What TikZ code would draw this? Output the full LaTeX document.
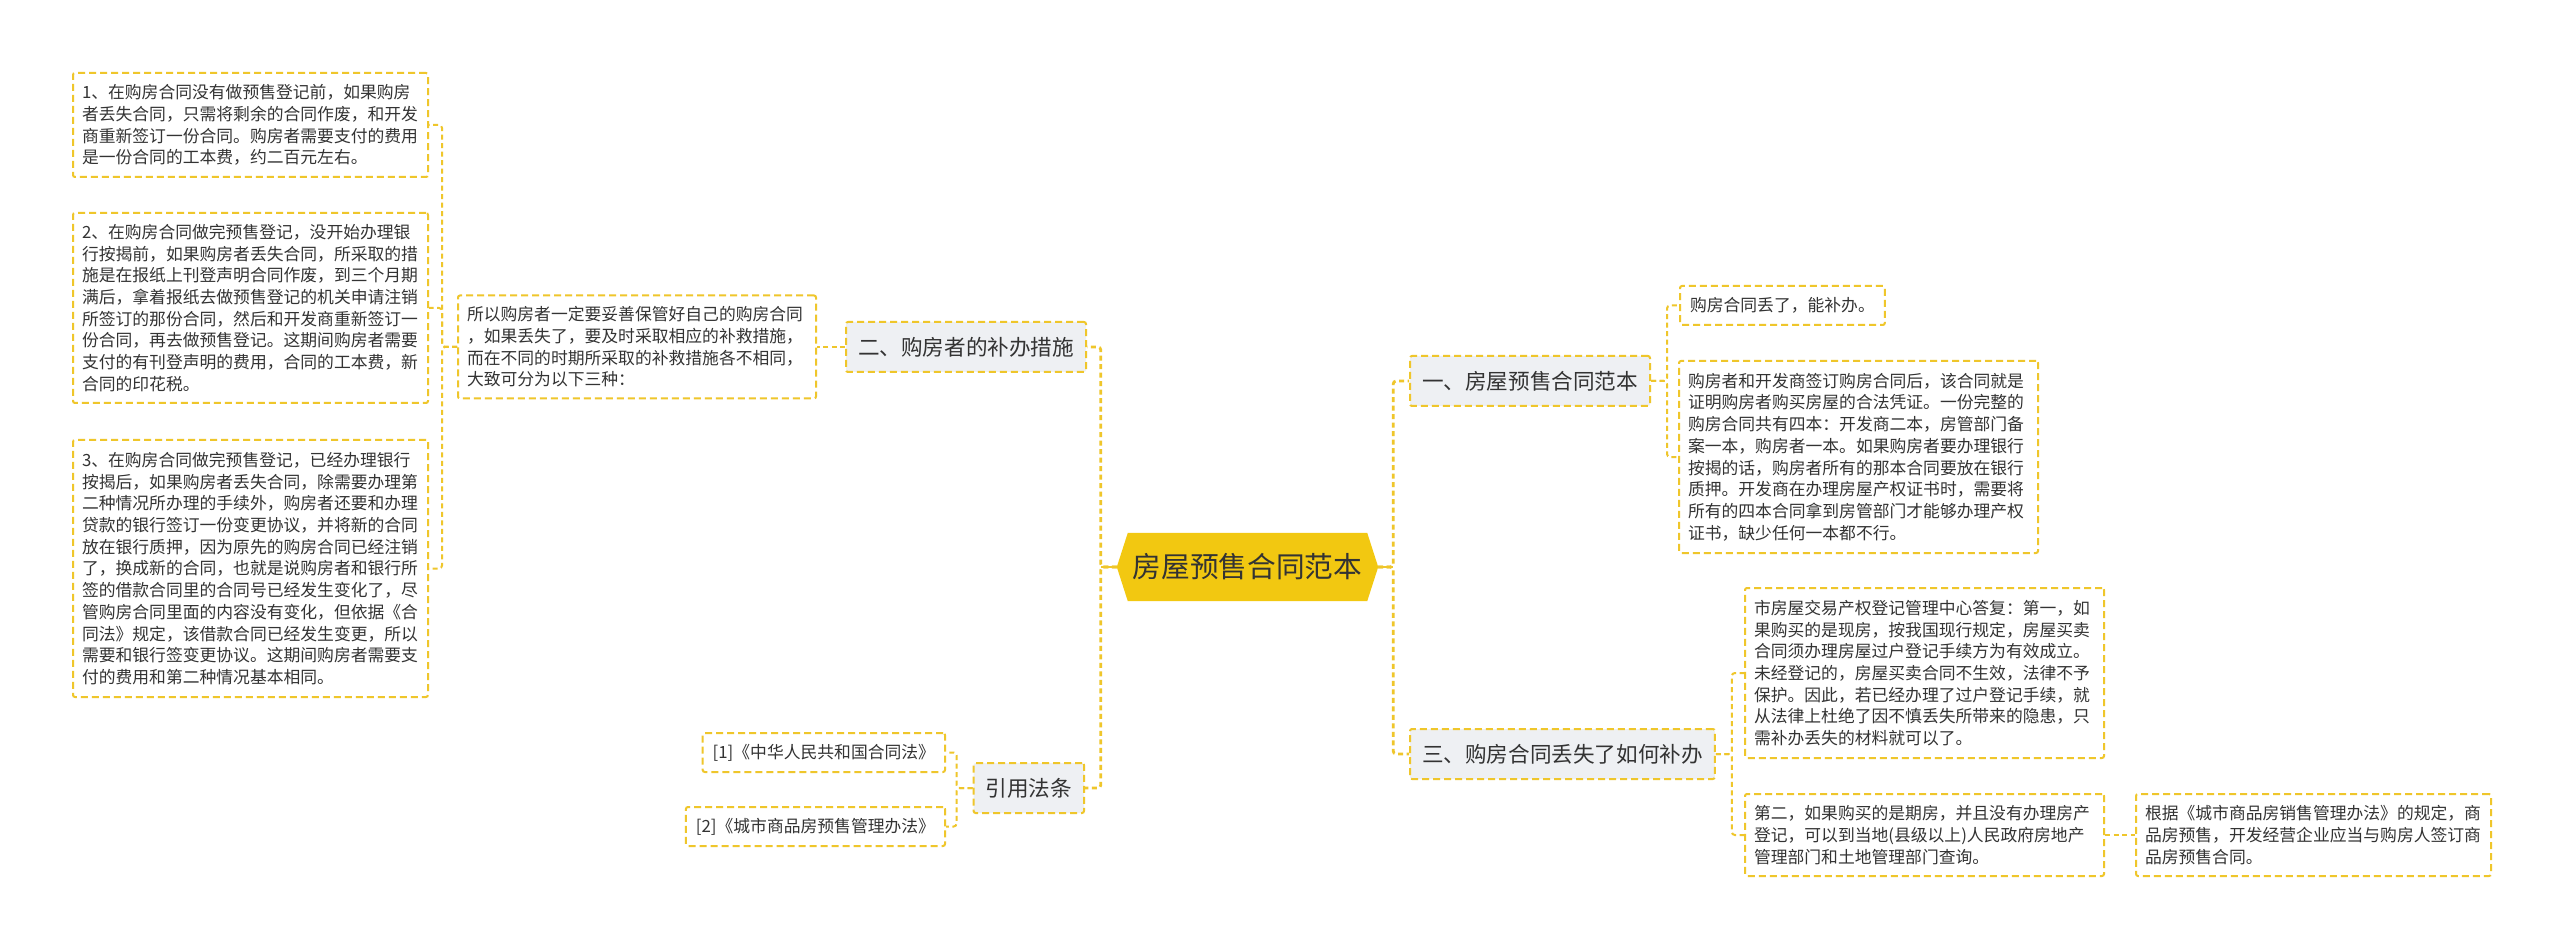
\documentclass[tikz,border=0pt]{standalone}
\usepackage{fontspec}
\setmainfont{Noto Sans CJK SC}
\usetikzlibrary{backgrounds}
\definecolor{bord}{HTML}{EFC62B}
\definecolor{rootfill}{HTML}{F2C811}
\definecolor{titlefill}{HTML}{EEF0F3}
\definecolor{ink}{HTML}{333333}
\newcommand\bodyfont{\fontsize{16.8}{21.7}\selectfont}
\newcommand\titlefont{\fontsize{21.6}{26}\selectfont}
\newcommand\rootfont{\fontsize{28.7}{34}\selectfont}
\newcommand\reffont{\fontsize{16.8}{21}\selectfont}
\begin{document}
\begin{tikzpicture}[x=1pt,y=-1pt,
  box/.style={draw=bord, line width=2pt, dash pattern=on 7pt off 4pt, rounded corners=2pt, text=ink},
  txt/.style={box, font=\bodyfont, align=left, inner xsep=9pt, inner ysep=0pt},
  title/.style={box, fill=titlefill, font=\titlefont, inner xsep=12pt, inner ysep=0pt, minimum height=50pt},
  reftxt/.style={box, font=\reffont, inner xsep=10pt, inner ysep=0pt, minimum height=39pt},
  link/.style={draw=bord, line width=2pt, dash pattern=on 5pt off 3.5pt, rounded corners=3pt},
  mainlink/.style={draw=bord, line width=2.8pt, dash pattern=on 5pt off 3.5pt, rounded corners=3pt},
  stub/.style={draw=bord, line width=2.8pt},
  rootnode/.style={font=\rootfont, text=ink, minimum width=239pt, minimum height=68pt, inner sep=0pt}
]
\useasboundingbox (0,0) rectangle (2560,949);

% root
\node[rootnode] (root) at (1247.5,567) {房屋预售合同范本};
\coordinate (rootL) at ([xshift=-11pt]root.west);
\coordinate (rootR) at ([xshift=11pt]root.east);
\begin{scope}[on background layer]
\fill[white] (0,0) rectangle (2560,949);
\fill[rootfill] (root.north west) -- (root.north east) -- (rootR) -- (root.south east) -- (root.south west) -- (rootL) -- cycle;
\end{scope}

% main branches
\node[title, anchor=east] (er) at (1087,347) {二、购房者的补办措施};
\node[title, anchor=east] (yin) at (1085,788) {引用法条};
\node[title, anchor=west] (one) at (1409,381) {一、房屋预售合同范本};
\node[title, anchor=west] (three) at (1409,754) {三、购房合同丢失了如何补办};

% left side
\node[txt, text width=340pt, minimum height=103pt] (intro) at (637,347) {所以购房者一定要妥善保管好自己的购房合同\\，如果丢失了，要及时采取相应的补救措施，\\而在不同的时期所采取的补救措施各不相同，\\大致可分为以下三种：};
\node[txt, text width=337pt, minimum height=104pt] (b1) at (250.5,125) {1、在购房合同没有做预售登记前，如果购房\\者丢失合同，只需将剩余的合同作废，和开发\\商重新签订一份合同。购房者需要支付的费用\\是一份合同的工本费，约二百元左右。};
\node[txt, text width=337pt, minimum height=190pt] (b2) at (250.5,308) {2、在购房合同做完预售登记，没开始办理银\\行按揭前，如果购房者丢失合同，所采取的措\\施是在报纸上刊登声明合同作废，到三个月期\\满后，拿着报纸去做预售登记的机关申请注销\\所签订的那份合同，然后和开发商重新签订一\\份合同，再去做预售登记。这期间购房者需要\\支付的有刊登声明的费用，合同的工本费，新\\合同的印花税。};
\node[txt, text width=337pt, minimum height=257pt] (b3) at (250.5,568.5) {3、在购房合同做完预售登记，已经办理银行\\按揭后，如果购房者丢失合同，除需要办理第\\二种情况所办理的手续外，购房者还要和办理\\贷款的银行签订一份变更协议，并将新的合同\\放在银行质押，因为原先的购房合同已经注销\\了，换成新的合同，也就是说购房者和银行所\\签的借款合同里的合同号已经发生变化了，尽\\管购房合同里面的内容没有变化，但依据《合\\同法》规定，该借款合同已经发生变更，所以\\需要和银行签变更协议。这期间购房者需要支\\付的费用和第二种情况基本相同。};
\node[reftxt, anchor=east] (r1) at (946,752.5) {[1]《中华人民共和国合同法》};
\node[reftxt, anchor=east] (r2) at (946,826.5) {[2]《城市商品房预售管理办法》};

% right side
\node[reftxt, font=\bodyfont, anchor=west] (small) at (1679,305.5) {购房合同丢了，能补办。};
\node[txt, text width=341pt, minimum height=192pt] (big) at (1858.5,457) {购房者和开发商签订购房合同后，该合同就是\\证明购房者购买房屋的合法凭证。一份完整的\\购房合同共有四本：开发商二本，房管部门备\\案一本，购房者一本。如果购房者要办理银行\\按揭的话，购房者所有的那本合同要放在银行\\质押。开发商在办理房屋产权证书时，需要将\\所有的四本合同拿到房管部门才能够办理产权\\证书，缺少任何一本都不行。};
\node[txt, text width=341pt, minimum height=170pt] (qa) at (1924.5,673) {市房屋交易产权登记管理中心答复：第一，如\\果购买的是现房，按我国现行规定，房屋买卖\\合同须办理房屋过户登记手续方为有效成立。\\未经登记的，房屋买卖合同不生效，法律不予\\保护。因此，若已经办理了过户登记手续，就\\从法律上杜绝了因不慎丢失所带来的隐患，只\\需补办丢失的材料就可以了。};
\node[txt, text width=341pt, minimum height=82pt] (qb) at (1924.5,835) {第二，如果购买的是期房，并且没有办理房产\\登记，可以到当地(县级以上)人民政府房地产\\管理部门和土地管理部门查询。};
\node[txt, text width=337pt, minimum height=82pt] (qc) at (2313.5,835) {根据《城市商品房销售管理办法》的规定，商\\品房预售，开发经营企业应当与购房人签订商\\品房预售合同。};

% connectors from root
\draw[stub] (rootR) -- ++(15,0);
\draw[mainlink] (rootR) -- ++(15,0) |- (one.west);
\draw[mainlink] (rootR) -- ++(15,0) |- (three.west);
\draw[stub] (rootL) -- ++(-16,0);
\draw[mainlink] (rootL) -- ++(-16,0) |- (er.east);
\draw[mainlink] (rootL) -- ++(-16,0) |- (yin.east);

% left connectors
\draw[link] (er.west) -- (intro.east);
\draw[link] (intro.west) -- ++(-15,0) |- (b1.east);
\draw[link] (intro.west) -- ++(-15,0) |- (b2.east);
\draw[link] (intro.west) -- ++(-15,0) |- (b3.east);
\draw[link] (yin.west) -- ++(-16,0) |- (r1.east);
\draw[link] (yin.west) -- ++(-16,0) |- (r2.east);

% right connectors
\draw[link] (one.east) -- ++(16,0) |- (small.west);
\draw[link] (one.east) -- ++(16,0) |- (big.west);
\draw[link] (three.east) -- ++(16,0) |- (qa.west);
\draw[link] (three.east) -- ++(16,0) |- (qb.west);
\draw[link] (qb.east) -- (qc.west);
\end{tikzpicture}
\end{document}
